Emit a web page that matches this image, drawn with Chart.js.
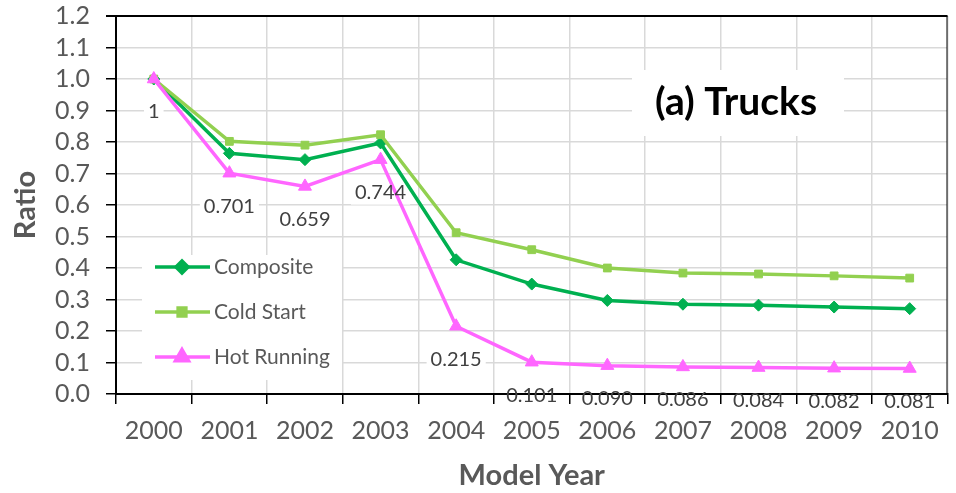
<!DOCTYPE html>
<html>
<head>
<meta charset="utf-8">
<script src="https://cdn.jsdelivr.net/npm/chart.js@4/dist/chart.umd.min.js"></script>
<style>
html,body{margin:0;padding:0;background:#fff;}
#wrap{width:956px;height:493px;position:relative;}
</style>
</head>
<body>
<div id="wrap"><canvas id="c" width="956" height="493"></canvas></div>
<script>
const years = ['2000','2001','2002','2003','2004','2005','2006','2007','2008','2009','2010'];
const composite = [1.0, 0.764, 0.744, 0.797, 0.426, 0.349, 0.297, 0.285, 0.282, 0.276, 0.271];
const coldStart = [1.0, 0.802, 0.790, 0.823, 0.512, 0.458, 0.400, 0.384, 0.381, 0.375, 0.368];
const hotRunning = [1, 0.701, 0.659, 0.744, 0.215, 0.101, 0.090, 0.086, 0.084, 0.082, 0.081];
const seriesNames = ['Composite', 'Cold Start', 'Hot Running'];
const yTicks = [0, 0.1, 0.2, 0.3, 0.4, 0.5, 0.6, 0.7, 0.8, 0.9, 1.0, 1.1, 1.2];

const FONT = 'Lato, "Open Sans", sans-serif';
const colors = ['#00B050', '#92D050', '#FF66FF'];
const styles = ['rectRot', 'rect', 'triangle'];
const radii = [6, 5.5, 7.5];

const overlay = {
  id: 'overlay',
  beforeDatasetsDraw(chart) {
    const ctx = chart.ctx;
    const ca = chart.chartArea;
    ctx.save();
    ctx.fillStyle = '#fff';
    ctx.fillRect(632, 70, 212, 66);
    ctx.fillRect(142, 255, 200, 125);
    const meta = chart.getDatasetMeta(2);
    ctx.font = '20px ' + FONT;
    meta.data.forEach((p, i) => {
      const v = hotRunning[i];
      const t = v === 1 ? '1' : v.toFixed(3);
      const w = ctx.measureText(t).width + 8;
      const y = p.y + 33;
      const top = y - 12;
      const bottom = Math.min(y + 12, ca.bottom - 1);
      ctx.fillRect(p.x - w / 2, top, w, bottom - top);
    });
    ctx.strokeStyle = '#000';
    ctx.lineWidth = 2;
    ctx.beginPath();
    ctx.moveTo(ca.left - 10, ca.top);
    ctx.lineTo(ca.right, ca.top);
    ctx.stroke();
    ctx.lineWidth = 1;
    ctx.beginPath();
    ctx.moveTo(ca.right - 0.5, ca.top);
    ctx.lineTo(ca.right - 0.5, ca.bottom);
    ctx.stroke();
    ctx.restore();
  },
  afterDatasetsDraw(chart) {
    const ctx = chart.ctx;
    ctx.save();
    ctx.fillStyle = '#000';
    ctx.font = 'bold 39px ' + FONT;
    ctx.textAlign = 'center';
    ctx.textBaseline = 'middle';
    ctx.fillText('(a) Trucks', 736, 102);
    const meta = chart.getDatasetMeta(2);
    ctx.fillStyle = '#404040';
    ctx.font = '20px ' + FONT;
    meta.data.forEach((p, i) => {
      const v = hotRunning[i];
      const t = v === 1 ? '1' : v.toFixed(3);
      ctx.fillText(t, p.x, p.y + 33);
    });
    const rows = [267, 312, 357];
    for (let k = 0; k < 3; k++) {
      const y = rows[k];
      ctx.strokeStyle = colors[k];
      ctx.lineWidth = 3.5;
      ctx.beginPath();
      ctx.moveTo(155, y);
      ctx.lineTo(210, y);
      ctx.stroke();
      ctx.fillStyle = colors[k];
      ctx.strokeStyle = colors[k];
      Chart.helpers.drawPoint(ctx, {pointStyle: styles[k], radius: radii[k], borderWidth: 1}, 182, y);
      ctx.fillStyle = '#595959';
      ctx.font = '21px ' + FONT;
      ctx.textAlign = 'left';
      ctx.fillText(seriesNames[k], 214, y);
    }
    ctx.restore();
  }
};

const mk = (k, data) => ({
  label: seriesNames[k],
  data: data,
  borderColor: colors[k],
  backgroundColor: colors[k],
  borderWidth: 3.5,
  pointStyle: styles[k],
  pointRadius: radii[k],
  pointHoverRadius: radii[k],
  pointBorderWidth: 1,
  tension: 0,
  order: 3 - k
});

new Chart(document.getElementById('c'), {
  type: 'line',
  data: {
    labels: years,
    datasets: [mk(0, composite), mk(1, coldStart), mk(2, hotRunning)]
  },
  options: {
    responsive: false,
    animation: false,
    layout: {padding: {top: 16, right: 1, left: 0, bottom: 0}},
    plugins: {legend: {display: false}, tooltip: {enabled: false}},
    scales: {
      x: {
        offset: true,
        grid: {offset: true, color: '#D9D9D9', lineWidth: 1.5, tickColor: '#000', tickLength: 10, drawTicks: true},
        border: {color: '#000', width: 2},
        ticks: {color: '#595959', font: {family: FONT, size: 25}, padding: 12, maxRotation: 0},
        title: {display: true, text: 'Model Year', color: '#595959', font: {family: FONT, size: 29, weight: 'bold'}, padding: {top: 2, bottom: 0}},
        afterFit(s) { s.height = 99; s.paddingLeft = 0; s.paddingRight = 0; }
      },
      y: {
        min: 0, max: 1.2,
        afterBuildTicks(s) { s.ticks = yTicks.map(v => ({value: v})); },
        grid: {color: '#D9D9D9', lineWidth: 1.5, tickColor: '#000', tickLength: 10},
        border: {color: '#000', width: 2},
        ticks: {color: '#595959', font: {family: FONT, size: 25}, padding: 16, autoSkip: false, callback: v => v.toFixed(1)},
        title: {display: true, text: 'Ratio', color: '#595959', font: {family: FONT, size: 29, weight: 'bold'}, padding: {top: 8, bottom: 0}},
        afterFit(s) { s.width = 116; s.paddingTop = 0; s.paddingBottom = 0; }
      }
    }
  },
  plugins: [overlay]
});
</script>
</body>
</html>
